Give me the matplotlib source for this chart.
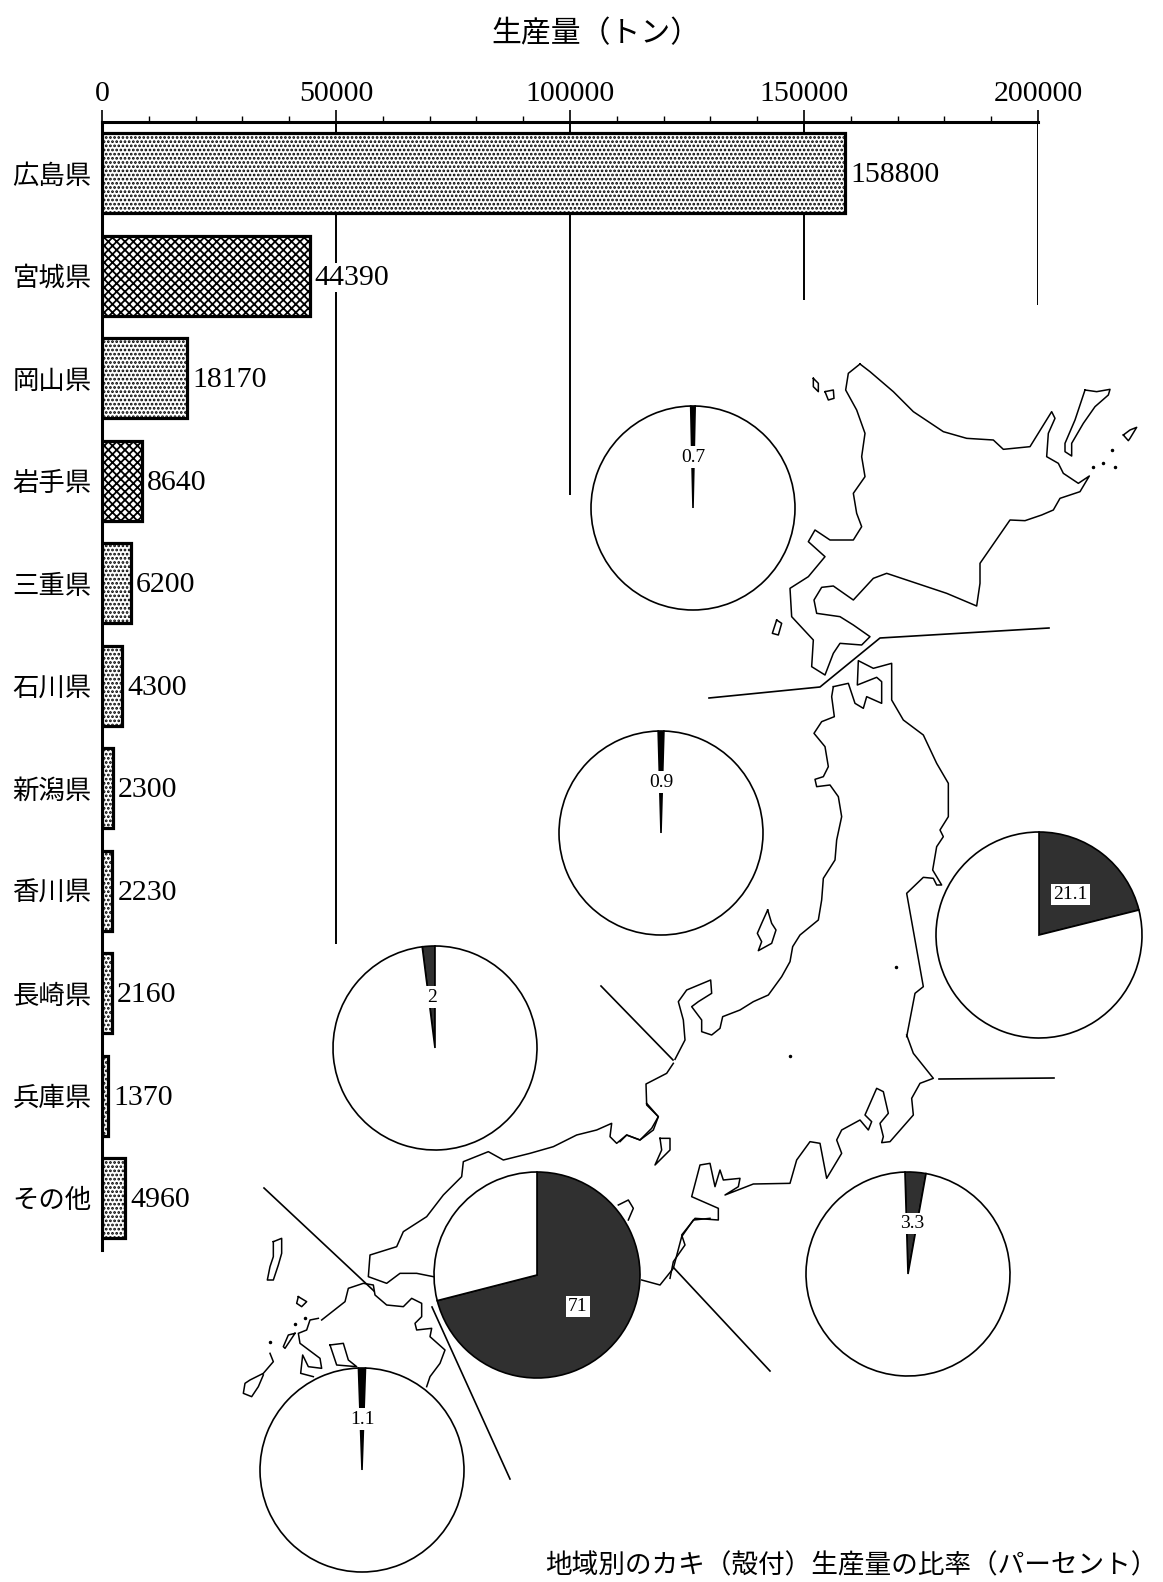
import matplotlib
matplotlib.use("Agg")
import matplotlib.pyplot as plt

plt.rcParams['font.family'] = ['Noto Sans CJK JP', 'DejaVu Sans']
plt.rcParams['hatch.linewidth'] = 1.3

# ---------- data ----------
prefectures = ['広島県', '宮城県', '岡山県', '岩手県', '三重県', '石川県',
               '新潟県', '香川県', '長崎県', '兵庫県', 'その他']
production = [158800, 44390, 18170, 8640, 6200, 4300, 2300, 2230, 2160, 1370, 4960]
bar_kinds = ['dot', 'cross', 'dot', 'cross', 'dot', 'dot', 'dot', 'dot', 'dot', 'dot', 'dot']
x_ticks = [0, 50000, 100000, 150000, 200000]
region_share = [0.7, 0.9, 21.1, 2, 71, 3.3, 1.1]

title = '生産量（トン）'
caption = '地域別のカキ（殻付）生産量の比率（パーセント）'

# ---------- layout (pixels of the 1163x1582 picture) ----------
W, H = 1163, 1582
AX_L, AX_R, AX_T, AX_B = 102, 1038, 122, 1250
BAR_Y0, BAR_STEP, BAR_H = 173, 102.5, 80
grid_ends = [122, 944, 495, 300, 305]
pie_places = [(693, 508, 102), (661, 833, 102), (1039, 935, 103), (435, 1048, 102),
              (537, 1275, 103), (908, 1274, 102), (362, 1470, 102)]
pie_starts = [91.3, 91.6, 90, 97.2, 90, 91.7, 92]

def idx(py):
    return (py - BAR_Y0) / BAR_STEP

def z(ox, oy, pts):
    return ([ox + p[0] / 3 for p in pts], [H - (oy + p[1] / 3) for p in pts])

fig = plt.figure(figsize=(W / 100, H / 100), dpi=100, facecolor='white')
ax = fig.add_axes([AX_L / W, 1 - AX_B / H, (AX_R - AX_L) / W, (AX_B - AX_T) / H])
ax.set_xlim(0, 200000)
ax.set_ylim(idx(AX_B), idx(AX_T))

for i, (v, kind) in enumerate(zip(production, bar_kinds)):
    ax.barh(i, v, height=BAR_H / BAR_STEP, facecolor='white',
            edgecolor='black', linewidth=2.3, hatch='xxxx' if kind == 'cross' else '....', zorder=2)
    ax.annotate(str(v), (v, i), xytext=(3.5, -1.5), textcoords='offset points', va='center', ha='left',
                fontsize=21.5, family='Liberation Serif', zorder=4,
                bbox=dict(facecolor='white', edgecolor='none', pad=1))

for t, e in zip(x_ticks, grid_ends):
    ax.vlines(t, idx(AX_T), idx(e), color='black', lw=1.4, zorder=1)

ax.xaxis.tick_top()
ax.set_xticks(x_ticks)
ax.set_xticklabels([str(t) for t in x_ticks], fontsize=21.5, family='Liberation Serif')
ax.set_xticks(range(0, 200001, 10000), minor=True)
ax.tick_params(axis='x', which='major', length=8.6, width=1.2, pad=2.5)
ax.tick_params(axis='x', which='minor', length=4, width=1)
ax.set_yticks(range(len(prefectures)))
ax.set_yticklabels(prefectures, fontsize=19)
ax.tick_params(axis='y', length=0, pad=7.5)
for s in ('right', 'bottom'):
    ax.spines[s].set_visible(False)
for s in ('top', 'left'):
    ax.spines[s].set_linewidth(2.2)

fig.text(596 / W, 1 - 34 / H, title, fontsize=21.5, ha='center', va='center')
fig.text(545 / W, 1 - 1566 / H, caption, fontsize=19.2, ha='left', va='center')

# ---------- map overlay ----------
m = fig.add_axes([0, 0, 1, 1], facecolor='none', zorder=5)
m.set_autoscale_on(False)
m.set_xlim(0, W)
m.set_ylim(0, H)

coast_crops = [
 # Hokkaido
 (680, 350, [(540,42),(505,70),(497,120),(530,180),(555,250),(545,320),(555,380),(520,430),(530,490),(545,530),(520,570),(450,570),(405,540),(385,575),(435,620),(385,680),(330,715),(335,800),(400,870),(395,950),(435,975),(460,910),(480,880),(545,885),(570,860),(520,825),(480,800),(410,790),(402,750),(425,712),(460,708),(520,750),(580,685),(620,670),(710,700),(800,730),(890,768),(900,700),(900,640),(990,510),(1035,512),(1085,495),(1120,480),(1140,445),(1200,425),(1228,378),(1195,400),(1150,370),(1135,340),(1100,320),(1105,250),(1125,205),(1115,185),(1050,290),(970,298),(940,270),(860,265),(790,245),(700,185),(640,125),(570,65),(540,42)]),
 (680, 350, [(400,85),(415,100),(415,125),(400,110),(400,85)]),
 (680, 350, [(435,125),(460,120),(462,145),(445,150),(435,125)]),
 (680, 350, [(290,810),(305,820),(295,855),(277,850),(290,810)]),
 (680, 350, [(1215,120),(1250,125),(1290,118),(1285,135),(1245,170),(1210,220),(1175,280),(1175,318),(1155,305),(1155,280),(1185,210),(1215,120)]),
 (680, 350, [(1330,255),(1350,240),(1370,232),(1350,265),(1345,272),(1330,255)]),
 # Honshu, north part, Sea of Japan side
 (640, 640, [(580,140),(575,170),(583,230),(545,245),(522,280),(555,320),(565,380),(550,410),(525,418),(530,440),(570,435),(595,470),(605,530),(590,600),(585,660),(550,715),(545,780),(535,840),(480,885),(458,920),(450,965),(425,1010),(385,1065),(340,1085),(300,1110),(248,1130),(240,1165),(215,1185),(185,1175),(185,1140),(155,1100),(175,1085),(215,1060),(212,1020),(140,1050),(115,1085),(130,1140),(135,1200),(105,1258)]),
 (620, 960, [(160,310),(140,340),(78,372),(80,435),(115,470),(95,505),(60,540),(20,525),(0,545)]),
 (230, 1100, [(1250,10),(1285,50),(1270,90),(1230,120),(1190,105),(1160,130),(1140,110),(1145,70),(1100,90),(1040,105),(970,140),(900,160),(820,180),(775,155),(700,185),(695,230),(640,285),(590,350),(520,395),(500,440),(420,465),(415,530),(470,550),(510,520),(560,520),(610,530)]),
 # south coast
 (230, 1100, [(1235,540),(1290,555),(1330,505),(1355,410),(1390,360),(1440,355)]),
 (620, 960, [(150,955),(160,905),(195,855),(185,825),(225,775),(295,780),(295,745),(215,710),(240,615),(270,610),(285,680),(300,630),(310,660),(360,655),(355,680),(315,705),(400,672),(510,670),(530,600),(570,545),(600,550),(620,655),(665,580),(650,540),(665,510),(720,480),(745,510),(755,485),(735,465),(770,385),(790,395),(805,460),(780,490),(790,530),(785,548),(810,545),(880,465),(875,415),(900,370),(940,355),(880,280),(860,225)]),
 # Honshu, north part, Pacific side
 (640, 640, [(800,1190),(825,1060),(850,1040),(825,900),(800,760),(850,712),(880,715),(890,735),(905,735),(878,690),(890,620),(910,590),(900,570),(925,530),(925,430),(890,370),(850,285),(790,240),(755,180),(755,70),(700,85),(655,62),(652,135),(710,112),(725,125),(725,190),(680,170),(670,205),(645,190),(625,130),(580,140)]),
 (640, 640, [(383,810),(395,850),(408,870),(395,910),(355,932),(365,905),(352,880),(365,850),(383,810)]),
 (620, 960, [(120,535),(150,535),(150,570),(105,615),(125,570),(120,535)]),
 # Shikoku fragment and Kyushu
 (230, 1100, [(1165,315),(1195,300),(1210,325),(1195,360)]),
 (230, 1100, [(275,660),(345,605),(355,565),(400,550),(430,555),(435,585),(470,615),(520,620),(545,595),(575,610),(575,650),(555,670),(560,690),(605,685),(600,710),(645,750),(630,790),(600,830),(590,860)]),
 (230, 1100, [(265,655),(240,660),(230,690),(205,700),(210,730),(270,775),(275,805),(235,800),(218,765),(212,820),(250,830)]),
 (230, 1100, [(300,735),(340,730),(355,780),(380,800),(320,795),(300,735)]),
 (230, 1100, [(120,760),(130,785),(100,820),(60,840),(45,850),(40,880),(65,890),(85,860),(100,825)]),
 (230, 1100, [(130,425),(155,415),(155,460),(145,495),(130,540),(112,540),(120,500),(130,470),(130,425)]),
 (230, 1100, [(205,590),(230,605),(215,620),(200,610),(205,590)]),
 (230, 1100, [(195,700),(165,745),(160,740),(175,705),(195,700)]),
]
for ox, oy, pts in coast_crops:
    xs, ys = z(ox, oy, pts)
    m.plot(xs, ys, color='black', lw=1.1, zorder=0.5, solid_joinstyle='round')

specks = [(680, 350, [(1240,352),(1270,340),(1295,300),(1305,350)]),
          (230, 1100, [(195,672),(225,655),(120,725)]),
          (620, 960, [(510,287),(828,20)])]
for ox, oy, pts in specks:
    xs, ys = z(ox, oy, pts)
    m.plot(xs, ys, ls='none', marker='o', ms=1.5, color='black', zorder=0.5)

dividers = [
 [(709,698),(820,687),(880,638),(1049,628)],
 [(601,986),(673,1060)],
 [(939,1079),(1054,1078)],
 [(264,1188),(374,1291)],
 [(673,1267),(770,1371)],
 [(432,1307),(510,1479)],
]
for d in dividers:
    m.plot([p[0] for p in d], [H - p[1] for p in d], color='black', lw=1.2, zorder=0.5)

# ---------- pies ----------
for share, (cx, cy, r), start in zip(region_share, pie_places, pie_starts):
    wedges, _, auto = m.pie(
        [share, 100 - share], center=(cx, H - cy), radius=r, startangle=start, counterclock=False,
        colors=['#303030' if share > 1.5 else 'black', 'white'],
        wedgeprops=dict(edgecolor='black', linewidth=1.2),
        autopct=lambda p, s=share: f'{s:g}' if abs(p - s) < 1e-6 else '',
        pctdistance=0.5, frame=True, normalize=True,
        textprops=dict(fontsize=14, family='Liberation Serif', zorder=6))
    auto[0].set_bbox(dict(facecolor='white', edgecolor='none', pad=1.5))

m.set_xlim(0, W)
m.set_ylim(0, H)
m.axis('off')

fig.savefig('out.png', dpi=100, facecolor='white')
